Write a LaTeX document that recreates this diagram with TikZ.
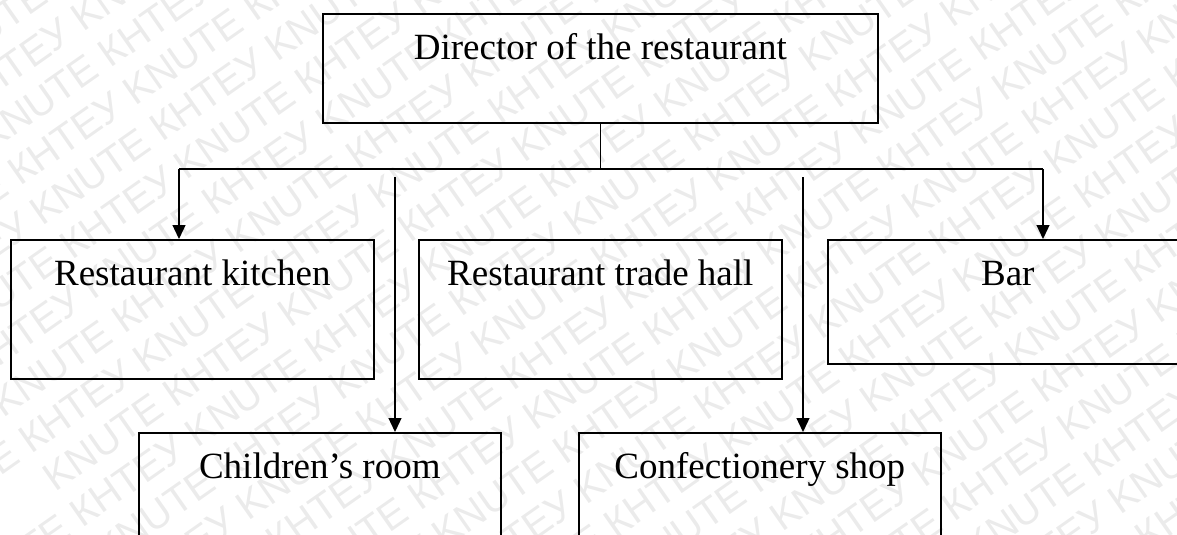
\documentclass[tikz,border=0pt]{standalone}
\usepackage{fontspec}
\setmainfont{Liberation Serif}
\newfontfamily\wmfont{Liberation Sans}
\usetikzlibrary{arrows.meta}
\begin{document}
\begin{tikzpicture}[x=1pt,y=-1pt,
  box/.style={draw, line width=1.6pt, inner xsep=0pt, inner ysep=0pt,
    text height=46pt, anchor=north west, font=\fontsize{37}{44}\selectfont},
  conn/.style={line width=1.3pt},
  arr/.style={line width=1.3pt, -{Triangle[length=14pt,width=13pt]}},
  wm/.style={text=black!8, font=\wmfont\fontsize{40}{40}\selectfont, rotate=35, inner sep=0pt}]
\useasboundingbox (0,0) rectangle (1177,535);
\clip (0,0) rectangle (1177,535);
% watermark
\foreach \k in {-14,...,14}{
  \pgfmathsetmacro{\m}{mod(\k+100,2)}
  \node[wm] (wm\k) at ({588.5+\k*25.8+\m*118.8},{267.5+\k*36.9-\m*83.2})
    {KNUTE КНТЕУ KNUTE КНТЕУ KNUTE КНТЕУ KNUTE КНТЕУ KNUTE КНТЕУ};
}
% boxes
\node[box, minimum width=555pt, text depth=63pt] (dir) at (322,13) {Director of the restaurant};
\node[box, minimum width=363pt, text depth=93pt] (kitchen) at (10,239) {Restaurant kitchen};
\node[box, minimum width=363pt, text depth=93pt] (hall) at (418,239) {Restaurant trade hall};
\node[box, minimum width=360pt, text depth=78pt] (bar) at (827,239) {Bar};
\node[box, minimum width=362pt, text depth=93pt] (child) at (138,432) {Children’s room};
\node[box, minimum width=362pt, text depth=93pt] (conf) at (578,432) {Confectionery shop};
% connectors
\coordinate (jl) at (179,169);
\coordinate (jr) at (1043,169);
\coordinate (cs) at (395,177);
\coordinate (ks) at (803,177);
\draw[conn] (dir.south) -- (dir.south |- jl);
\draw[conn] (jl) -- (jr);
\draw[arr] (jl) -- (jl |- kitchen.north);
\draw[arr] (jr) -- (jr |- bar.north);
\draw[arr] (cs) -- (cs |- child.north);
\draw[arr] (ks) -- (ks |- conf.north);
\end{tikzpicture}
\end{document}
